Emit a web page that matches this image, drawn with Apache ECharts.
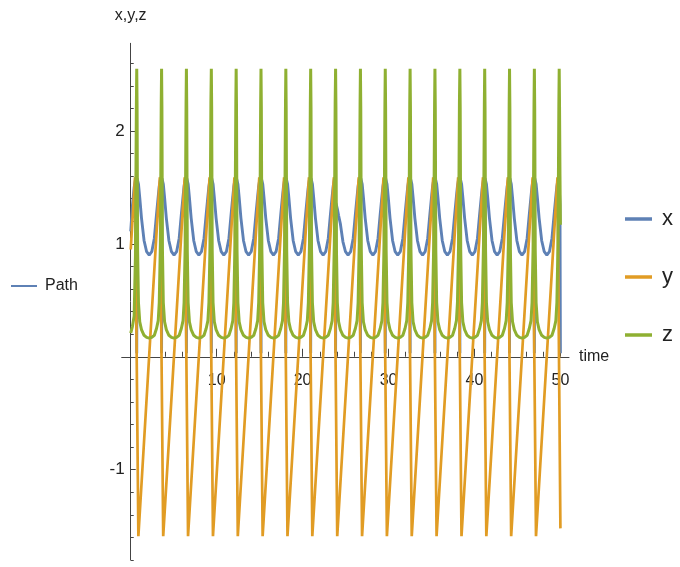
<!DOCTYPE html>
<html><head><meta charset="utf-8">
<script src="https://cdn.jsdelivr.net/npm/echarts@6/dist/echarts.min.js"></script>
<style>html,body{margin:0;padding:0;background:#fff}#c{width:680px;height:567px}</style>
</head><body><div id="c"></div>
<script>
// time samples shared by x(t) and z(t)
const tXZ = [
0, 0.2, 0.4, 0.55, 0.66,
0.70, 0.74, 0.80, 0.90, 1.05, 1.25, 1.55, 1.85, 2.15, 2.45, 2.75, 3.00, 3.20, 3.32, 3.45, 3.55,
3.59, 3.63, 3.69, 3.79, 3.94, 4.14, 4.44, 4.74, 5.04, 5.34, 5.64, 5.89, 6.09, 6.21, 6.34, 6.44,
6.48, 6.52, 6.58, 6.68, 6.83, 7.03, 7.33, 7.63, 7.93, 8.23, 8.53, 8.78, 8.98, 9.10, 9.23, 9.33,
9.38, 9.42, 9.48, 9.58, 9.73, 9.93, 10.23, 10.53, 10.83, 11.13, 11.43, 11.68, 11.88, 12.00, 12.13, 12.23,
12.27, 12.31, 12.37, 12.47, 12.62, 12.82, 13.12, 13.42, 13.72, 14.02, 14.32, 14.57, 14.77, 14.89, 15.02, 15.12,
15.16, 15.20, 15.26, 15.36, 15.51, 15.71, 16.01, 16.31, 16.61, 16.91, 17.21, 17.46, 17.66, 17.78, 17.91, 18.01,
18.05, 18.09, 18.15, 18.25, 18.40, 18.60, 18.90, 19.20, 19.50, 19.80, 20.10, 20.35, 20.55, 20.67, 20.80, 20.90,
20.94, 20.98, 21.04, 21.14, 21.29, 21.49, 21.79, 22.09, 22.39, 22.69, 22.99, 23.24, 23.44, 23.56, 23.69, 23.79,
23.84, 23.88, 23.94, 24.04, 24.19, 24.39, 24.69, 24.99, 25.29, 25.59, 25.89, 26.14, 26.34, 26.46, 26.59, 26.69,
26.73, 26.77, 26.83, 26.93, 27.08, 27.28, 27.58, 27.88, 28.18, 28.48, 28.78, 29.03, 29.23, 29.35, 29.48, 29.58,
29.62, 29.66, 29.72, 29.82, 29.97, 30.17, 30.47, 30.77, 31.07, 31.37, 31.67, 31.92, 32.12, 32.24, 32.37, 32.47,
32.51, 32.55, 32.61, 32.71, 32.86, 33.06, 33.36, 33.66, 33.96, 34.26, 34.56, 34.81, 35.01, 35.13, 35.26, 35.36,
35.40, 35.44, 35.50, 35.60, 35.75, 35.95, 36.25, 36.55, 36.85, 37.15, 37.45, 37.70, 37.90, 38.02, 38.15, 38.25,
38.30, 38.34, 38.40, 38.50, 38.65, 38.85, 39.15, 39.45, 39.75, 40.05, 40.35, 40.60, 40.80, 40.92, 41.05, 41.15,
41.19, 41.23, 41.29, 41.39, 41.54, 41.74, 42.04, 42.34, 42.64, 42.94, 43.24, 43.49, 43.69, 43.81, 43.94, 44.04,
44.08, 44.12, 44.18, 44.28, 44.43, 44.63, 44.93, 45.23, 45.53, 45.83, 46.13, 46.38, 46.58, 46.70, 46.83, 46.93,
46.97, 47.01, 47.07, 47.17, 47.32, 47.52, 47.82, 48.12, 48.42, 48.72, 49.02, 49.27, 49.47, 49.59, 49.72, 49.82,
49.86, 49.90, 49.95, 50.00
];
const xVals = [
1.11, 1.34, 1.50, 1.57, 1.59,
0.03, 1.58, 1.57, 1.53, 1.41, 1.23, 1.03, 0.93, 0.90, 0.93, 1.05, 1.26, 1.42, 1.51, 1.57, 1.59,
0.03, 1.58, 1.57, 1.53, 1.41, 1.23, 1.03, 0.93, 0.90, 0.93, 1.05, 1.26, 1.42, 1.51, 1.57, 1.59,
0.03, 1.58, 1.57, 1.53, 1.41, 1.23, 1.03, 0.93, 0.90, 0.93, 1.05, 1.26, 1.42, 1.51, 1.57, 1.59,
0.03, 1.58, 1.57, 1.53, 1.41, 1.23, 1.03, 0.93, 0.90, 0.93, 1.05, 1.26, 1.42, 1.51, 1.57, 1.59,
0.03, 1.58, 1.57, 1.53, 1.41, 1.23, 1.03, 0.93, 0.90, 0.93, 1.05, 1.26, 1.42, 1.51, 1.57, 1.59,
0.03, 1.58, 1.57, 1.53, 1.41, 1.23, 1.03, 0.93, 0.90, 0.93, 1.05, 1.26, 1.42, 1.51, 1.57, 1.59,
0.03, 1.58, 1.57, 1.53, 1.41, 1.23, 1.03, 0.93, 0.90, 0.93, 1.05, 1.26, 1.42, 1.51, 1.57, 1.59,
0.03, 1.58, 1.57, 1.53, 1.41, 1.23, 1.03, 0.93, 0.90, 0.93, 1.05, 1.26, 1.42, 1.51, 1.57, 1.59,
0.03, 1.36, 1.35, 1.31, 1.25, 1.18, 1.02, 0.93, 0.90, 0.93, 1.05, 1.26, 1.42, 1.51, 1.57, 1.59,
0.03, 1.58, 1.57, 1.53, 1.41, 1.23, 1.03, 0.93, 0.90, 0.93, 1.05, 1.26, 1.42, 1.51, 1.57, 1.59,
0.03, 1.58, 1.57, 1.53, 1.41, 1.23, 1.03, 0.93, 0.90, 0.93, 1.05, 1.26, 1.42, 1.51, 1.57, 1.59,
0.03, 1.58, 1.57, 1.53, 1.41, 1.23, 1.03, 0.93, 0.90, 0.93, 1.05, 1.26, 1.42, 1.51, 1.57, 1.59,
0.03, 1.58, 1.57, 1.53, 1.41, 1.23, 1.03, 0.93, 0.90, 0.93, 1.05, 1.26, 1.42, 1.51, 1.57, 1.59,
0.03, 1.58, 1.57, 1.53, 1.41, 1.23, 1.03, 0.93, 0.90, 0.93, 1.05, 1.26, 1.42, 1.51, 1.57, 1.59,
0.03, 1.58, 1.57, 1.53, 1.41, 1.23, 1.03, 0.93, 0.90, 0.93, 1.05, 1.26, 1.42, 1.51, 1.57, 1.59,
0.03, 1.58, 1.57, 1.53, 1.41, 1.23, 1.03, 0.93, 0.90, 0.93, 1.05, 1.26, 1.42, 1.51, 1.57, 1.59,
0.03, 1.58, 1.57, 1.53, 1.41, 1.23, 1.03, 0.93, 0.90, 0.93, 1.05, 1.26, 1.42, 1.51, 1.57, 1.59,
1.59, 1.58, 1.35, 0.03
];
const zVals = [
0.21, 0.27, 0.36, 0.90, 2.25,
2.55, 2.20, 0.95, 0.48, 0.31, 0.24, 0.19, 0.172, 0.165, 0.172, 0.19, 0.25, 0.32, 0.48, 1.00, 2.25,
2.55, 2.20, 0.95, 0.48, 0.31, 0.24, 0.19, 0.172, 0.165, 0.172, 0.19, 0.25, 0.32, 0.48, 1.00, 2.25,
2.55, 2.20, 0.95, 0.48, 0.31, 0.24, 0.19, 0.172, 0.165, 0.172, 0.19, 0.25, 0.32, 0.48, 1.00, 2.25,
2.55, 2.20, 0.95, 0.48, 0.31, 0.24, 0.19, 0.172, 0.165, 0.172, 0.19, 0.25, 0.32, 0.48, 1.00, 2.25,
2.55, 2.20, 0.95, 0.48, 0.31, 0.24, 0.19, 0.172, 0.165, 0.172, 0.19, 0.25, 0.32, 0.48, 1.00, 2.25,
2.55, 2.20, 0.95, 0.48, 0.31, 0.24, 0.19, 0.172, 0.165, 0.172, 0.19, 0.25, 0.32, 0.48, 1.00, 2.25,
2.55, 2.20, 0.95, 0.48, 0.31, 0.24, 0.19, 0.172, 0.165, 0.172, 0.19, 0.25, 0.32, 0.48, 1.00, 2.25,
2.55, 2.20, 0.95, 0.48, 0.31, 0.24, 0.19, 0.172, 0.165, 0.172, 0.19, 0.25, 0.32, 0.48, 1.00, 2.25,
2.55, 2.20, 0.95, 0.48, 0.31, 0.24, 0.19, 0.172, 0.165, 0.172, 0.19, 0.25, 0.32, 0.48, 1.00, 2.25,
2.55, 2.20, 0.95, 0.48, 0.31, 0.24, 0.19, 0.172, 0.165, 0.172, 0.19, 0.25, 0.32, 0.48, 1.00, 2.25,
2.55, 2.20, 0.95, 0.48, 0.31, 0.24, 0.19, 0.172, 0.165, 0.172, 0.19, 0.25, 0.32, 0.48, 1.00, 2.25,
2.55, 2.20, 0.95, 0.48, 0.31, 0.24, 0.19, 0.172, 0.165, 0.172, 0.19, 0.25, 0.32, 0.48, 1.00, 2.25,
2.55, 2.20, 0.95, 0.48, 0.31, 0.24, 0.19, 0.172, 0.165, 0.172, 0.19, 0.25, 0.32, 0.48, 1.00, 2.25,
2.55, 2.20, 0.95, 0.48, 0.31, 0.24, 0.19, 0.172, 0.165, 0.172, 0.19, 0.25, 0.32, 0.48, 1.00, 2.25,
2.55, 2.20, 0.95, 0.48, 0.31, 0.24, 0.19, 0.172, 0.165, 0.172, 0.19, 0.25, 0.32, 0.48, 1.00, 2.25,
2.55, 2.20, 0.95, 0.48, 0.31, 0.24, 0.19, 0.172, 0.165, 0.172, 0.19, 0.25, 0.32, 0.48, 1.00, 2.25,
2.55, 2.20, 0.95, 0.48, 0.31, 0.24, 0.19, 0.172, 0.165, 0.172, 0.19, 0.25, 0.32, 0.48, 1.00, 2.25,
2.55, 2.20, 1.60, 1.17
];
// y(t): sawtooth turning points
const tY = [0, 0.50, 0.89, 3.39, 3.78, 6.28, 6.67, 9.18, 9.57, 12.07, 12.46, 14.96, 15.35, 17.85, 18.24,
  20.74, 21.13, 23.64, 24.03, 26.53, 26.92, 29.42, 29.81, 32.31, 32.70, 35.20, 35.59, 38.10, 38.49,
  40.99, 41.38, 43.88, 44.27, 46.77, 47.16, 49.66, 50.00];
const yVals = [0.95, 1.59, -1.59, 1.59, -1.59, 1.59, -1.59, 1.59, -1.59, 1.59, -1.59, 1.59, -1.59, 1.59, -1.59,
  1.59, -1.59, 1.59, -1.59, 1.59, -1.59, 1.59, -1.59, 1.59, -1.59, 1.59, -1.59, 1.59, -1.59,
  1.59, -1.59, 1.59, -1.59, 1.59, -1.59, 1.59, -1.52];

const xMajorTicks = [10, 20, 30, 40, 50];
const xMinorTicks = [2, 4, 6, 8, 12, 14, 16, 18, 22, 24, 26, 28, 32, 34, 36, 38, 42, 44, 46, 48];
const yMajorTicks = [-1, 1, 2];
const yMinorTicks = [-1.8, -1.6, -1.4, -1.2, -0.8, -0.6, -0.4, -0.2, 0.2, 0.4, 0.6, 0.8, 1.2, 1.4, 1.6, 1.8, 2.2, 2.4, 2.6];
const seriesNames = ['x', 'y', 'z'];
const legendLeftName = 'Path';

const FONT = '"Liberation Sans", Arial, sans-serif';
const AX = '#444';
const COLORS = ['#5E81B5', '#E19C24', '#8FB032'];

// plot frame and axis ranges
const W = 680, H = 567;
const G = {left: 121.7, right: 111, top: 43.3, bottom: 7};
const X_MIN = -1.05, X_MAX = 51, Y_MIN = -1.80, Y_MAX = 2.776;
const gw = W - G.left - G.right, gh = H - G.top - G.bottom;
// axes cross at zero: shift the bottom / left axes inward to the zero line
const xAxisOffset = -gh * (0 - Y_MIN) / (Y_MAX - Y_MIN);
const yAxisOffset = -gw * (0 - X_MIN) / (X_MAX - X_MIN);

const chart = echarts.init(document.getElementById('c'), null, {renderer: 'canvas'});
const pairs = (ts, vs) => ts.map((t, i) => [t, vs[i]]);

const xBase = {type: 'value', min: X_MIN, max: X_MAX, position: 'bottom', offset: xAxisOffset, splitLine: {show: false}};
const yBase = {type: 'value', min: Y_MIN, max: Y_MAX, position: 'left', offset: yAxisOffset, splitLine: {show: false}};

chart.setOption({
  animation: false,
  backgroundColor: '#fff',
  grid: Object.assign({outerBoundsMode: 'none', containLabel: false}, G),
  legend: [
    {data: seriesNames, orient: 'vertical', left: 620, top: 202, itemWidth: 27, itemHeight: 3.5,
     itemGap: 34, icon: 'rect', selectedMode: false,
     textStyle: {fontFamily: FONT, fontSize: 22, lineHeight: 24, color: '#222', padding: [0, 0, 0, 5]}},
    {data: [legendLeftName], orient: 'vertical', left: 6, top: 273, itemWidth: 26, itemHeight: 2,
     icon: 'rect', selectedMode: false,
     textStyle: {fontFamily: FONT, fontSize: 16, lineHeight: 16, color: '#222', padding: [0, 0, 0, 3]}}
  ],
  xAxis: [
    Object.assign({}, xBase, {
      axisLine: {onZero: false, lineStyle: {color: AX, width: 1}},
      axisTick: {inside: true, length: 8, customValues: xMajorTicks, lineStyle: {color: AX}},
      axisLabel: {customValues: xMajorTicks, margin: 16, fontFamily: FONT, fontSize: 16, color: '#222'},
      name: 'time', nameLocation: 'end', nameGap: 10,
      nameTextStyle: {fontFamily: FONT, fontSize: 16, color: '#222'}
    }),
    Object.assign({}, xBase, {
      axisLine: {show: false, onZero: false},
      axisTick: {inside: true, length: 5, customValues: xMinorTicks, lineStyle: {color: AX}},
      axisLabel: {show: false}
    })
  ],
  yAxis: [
    Object.assign({}, yBase, {
      axisLine: {show: true, onZero: false, lineStyle: {color: AX, width: 1}},
      axisTick: {show: true, inside: true, length: 5, customValues: yMajorTicks, lineStyle: {color: AX}},
      axisLabel: {customValues: yMajorTicks, margin: 6, fontFamily: FONT, fontSize: 17, color: '#222'},
      name: 'x,y,z', nameLocation: 'end', nameGap: 20,
      nameTextStyle: {fontFamily: FONT, fontSize: 16, color: '#222', align: 'center'}
    }),
    Object.assign({}, yBase, {
      axisLine: {show: false, onZero: false},
      axisTick: {show: true, inside: true, length: 3, customValues: yMinorTicks, lineStyle: {color: AX}},
      axisLabel: {show: false}
    })
  ],
  series: [
    {name: legendLeftName, type: 'line', data: [], color: COLORS[0], showSymbol: false},
    {name: seriesNames[0], type: 'line', data: pairs(tXZ, xVals), color: COLORS[0], showSymbol: false,
     lineStyle: {width: 2.9}, silent: true},
    {name: seriesNames[1], type: 'line', data: pairs(tY, yVals), color: COLORS[1], showSymbol: false,
     lineStyle: {width: 2.7}, silent: true},
    {name: seriesNames[2], type: 'line', data: pairs(tXZ, zVals), color: COLORS[2], showSymbol: false,
     lineStyle: {width: 3}, silent: true}
  ]
});
</script></body></html>
